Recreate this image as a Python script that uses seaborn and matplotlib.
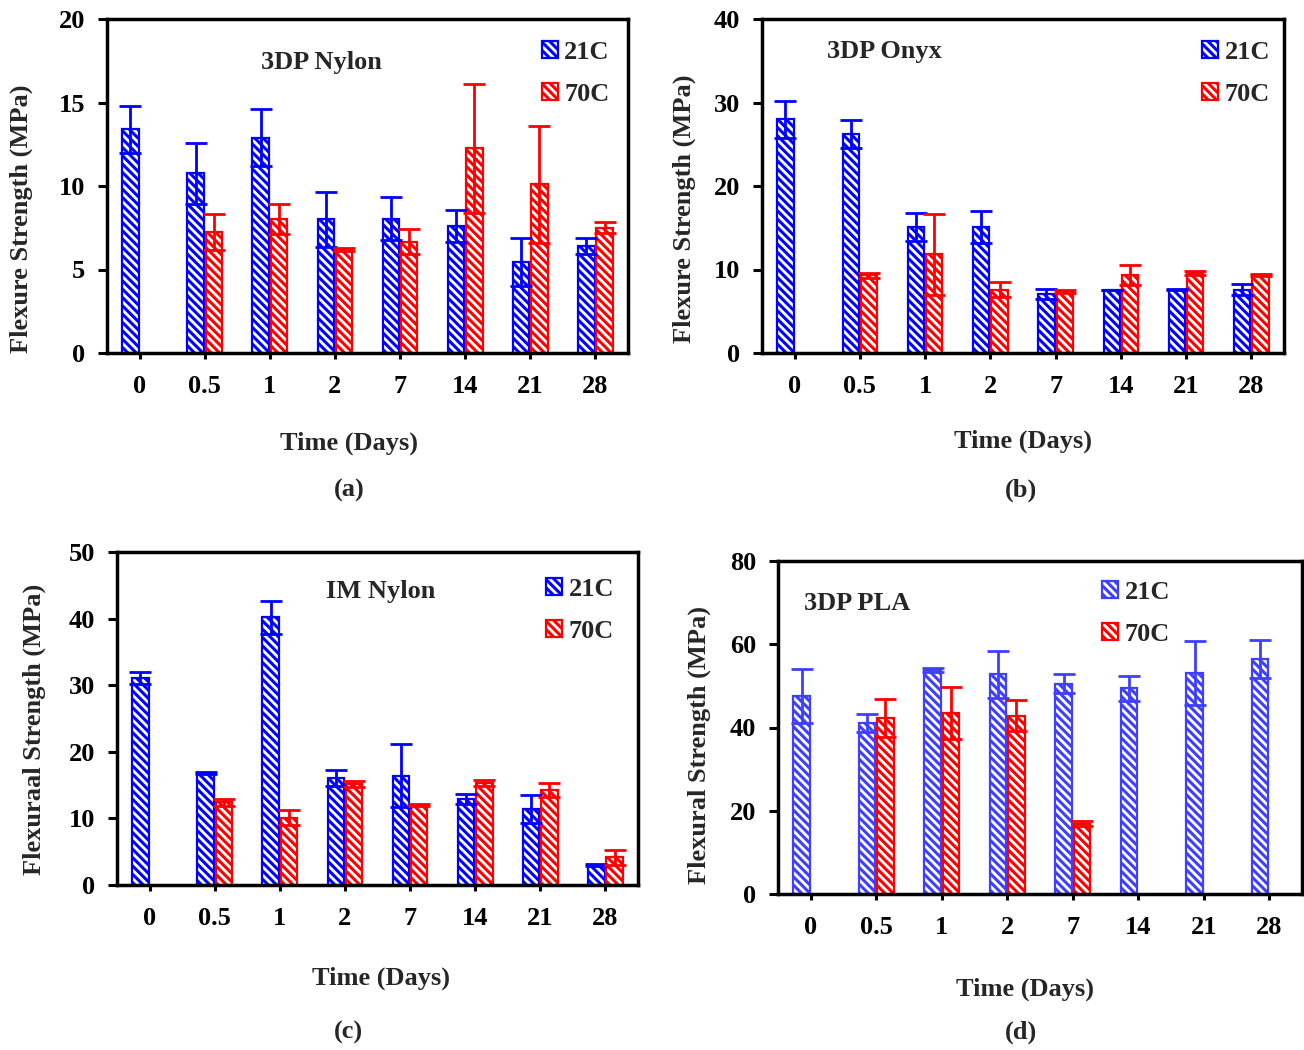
import numpy as np
import pandas as pd
import matplotlib
matplotlib.use("Agg")
import matplotlib.pyplot as plt
import matplotlib.patches as mpatches
import seaborn as sns

nan = np.nan

times = ["0", "0.5", "1", "2", "7", "14", "21", "28"]
temps = ["21C", "70C"]

# 3DP Nylon
nylon_21 = [13.4, 10.75, 12.9, 8.0, 8.05, 7.6, 5.45, 6.4]
nylon_21_err = [1.4, 1.8, 1.7, 1.65, 1.3, 0.95, 1.45, 0.5]
nylon_70 = [nan, 7.25, 8.0, 6.2, 6.65, 12.25, 10.1, 7.5]
nylon_70_err = [nan, 1.1, 0.9, 0.08, 0.75, 3.85, 3.5, 0.32]

# 3DP Onyx
onyx_21 = [28.0, 26.2, 15.1, 15.1, 7.1, 7.55, 7.6, 7.6]
onyx_21_err = [2.2, 1.7, 1.7, 1.95, 0.6, 0.05, 0.1, 0.7]
onyx_70 = [nan, 9.3, 11.8, 7.6, 7.4, 9.3, 9.55, 9.4]
onyx_70_err = [nan, 0.3, 4.8, 0.9, 0.2, 1.2, 0.25, 0.12]

# IM Nylon
im_21 = [31.1, 16.8, 40.2, 16.0, 16.4, 12.9, 11.4, 3.0]
im_21_err = [0.9, 0.1, 2.5, 1.2, 4.7, 0.7, 2.1, 0.1]
im_70 = [nan, 12.4, 10.1, 15.1, 12.0, 15.3, 14.3, 4.15]
im_70_err = [nan, 0.55, 1.15, 0.45, 0.1, 0.4, 1.05, 1.1]

# 3DP PLA
pla_21 = [47.6, 41.1, 53.8, 52.8, 50.5, 49.4, 53.0, 56.4]
pla_21_err = [6.5, 2.15, 0.55, 5.6, 2.25, 3.0, 7.7, 4.55]
pla_70 = [nan, 42.2, 43.5, 42.8, 16.9, nan, nan, nan]
pla_70_err = [nan, 4.6, 6.3, 3.75, 0.65, nan, nan, nan]

BLUE = "#0000FF"
RED = "#FF0000"
LIGHT_BLUE = "#3F3FFF"
HATCH = "\\\\\\\\"

sns.set_theme(style="ticks")
plt.rcParams["font.family"] = ["Liberation Serif", "DejaVu Serif"]
plt.rcParams["font.weight"] = "bold"
plt.rcParams["axes.labelweight"] = "bold"
plt.rcParams["hatch.linewidth"] = 2.2
FS = 19


def make_frame(v21, e21, v70, e70):
    rows = []
    for t, a, ea, b, eb in zip(times, v21, e21, v70, e70):
        rows.append({"time": t, "temp": "21C", "value": a, "err": ea})
        rows.append({"time": t, "temp": "70C", "value": b, "err": eb})
    return pd.DataFrame(rows).dropna()


def draw_panel(ax, df, colors, ymax, ystep, title, title_xy, ylabel,
               ylabel_xy, xlabel_xy, leg_anchor):
    sns.barplot(data=df, x="time", y="value", hue="temp", order=times,
                hue_order=temps, palette=colors, width=0.56, gap=0.1,
                errorbar=None, legend=False, ax=ax)
    lookup = {(r.time, r.temp): (r.value, r.err) for r in df.itertuples()}
    for lvl, cont in zip(temps, ax.containers):
        col = colors[lvl]
        for p in cont:
            p.set_facecolor("white")
            p.set_edgecolor(col)
            p.set_linewidth(1.6)
            p.set_hatch(HATCH)
            if hasattr(p, "set_hatchcolor"):
                p.set_hatchcolor(col)
            xc = p.get_x() + p.get_width() / 2
            key = (times[int(round(xc))], lvl)
            if key in lookup:
                val, err = lookup[key]
                ax.errorbar(xc, val, yerr=err, fmt="none", ecolor=col,
                            elinewidth=2.0, capsize=8, capthick=2.0, zorder=5)

    ax.set_xlim(-0.5, 7.5)
    ax.set_ylim(0, ymax)
    ax.set_yticks(np.arange(0, ymax + 0.1, ystep))
    ax.set_yticklabels([f"{int(v)}" for v in np.arange(0, ymax + 0.1, ystep)])
    ax.set_xticks(range(len(times)))
    ax.set_xticklabels(times)
    for sp in ax.spines.values():
        sp.set_visible(True)
        sp.set_linewidth(2.5)
        sp.set_color("black")
    ax.tick_params(axis="x", direction="out", length=4, width=2.2, pad=12,
                   labelsize=FS, colors="black")
    ax.tick_params(axis="y", direction="out", length=6.5, width=2.2, pad=9,
                   labelsize=FS, colors="black")
    for lab in ax.get_xticklabels() + ax.get_yticklabels():
        lab.set_fontweight("bold")

    ax.set_xlabel("Time (Days)", fontsize=FS, fontweight="bold")
    ax.xaxis.set_label_coords(*xlabel_xy)
    ax.set_ylabel(ylabel, fontsize=FS, fontweight="bold")
    ax.yaxis.set_label_coords(*ylabel_xy)
    ax.text(title_xy[0], title_xy[1], title, transform=ax.transAxes,
            ha="center", va="center", fontsize=FS, fontweight="bold")

    handles = [mpatches.Patch(facecolor="white", edgecolor=colors[t],
                              hatch=HATCH, linewidth=1.6, label=t)
               for t in temps]
    for h, t in zip(handles, temps):
        if hasattr(h, "set_hatchcolor"):
            h.set_hatchcolor(colors[t])
    leg = ax.legend(handles=handles, loc="upper right",
                    bbox_to_anchor=leg_anchor, frameon=False,
                    fontsize=FS, handlelength=0.6, handleheight=0.6,
                    handletextpad=0.25, labelspacing=0.72, borderpad=0,
                    borderaxespad=0)
    for txt in leg.get_texts():
        txt.set_fontweight("bold")


fig = plt.figure(figsize=(13.04, 10.5), dpi=100)
W, H = 1304, 1050


def axes_px(left, top, right, bottom):
    return fig.add_axes([left / W, 1 - bottom / H, (right - left) / W,
                         (bottom - top) / H])


ax_a = axes_px(107, 19, 628, 353)
ax_b = axes_px(762, 19, 1284, 353)
ax_c = axes_px(117, 552, 638, 885)
ax_d = axes_px(778, 561, 1302, 894)

draw_panel(ax_a, make_frame(nylon_21, nylon_21_err, nylon_70, nylon_70_err),
           {"21C": BLUE, "70C": RED}, 20, 5, "3DP Nylon", (0.411, 0.871),
           "Flexure Strength (MPa)", (-0.142, 0.401), (0.4645, -0.2365),
           (0.965, 0.934))
draw_panel(ax_b, make_frame(onyx_21, onyx_21_err, onyx_70, onyx_70_err),
           {"21C": BLUE, "70C": RED}, 40, 10, "3DP Onyx", (0.234, 0.904),
           "Flexure Strength (MPa)", (-0.126, 0.431), (0.5, -0.2305),
           (0.973, 0.934))
draw_panel(ax_c, make_frame(im_21, im_21_err, im_70, im_70_err),
           {"21C": BLUE, "70C": RED}, 50, 10, "IM Nylon", (0.507, 0.88),
           "Flexuraal Strength (MPa)", (-0.136, 0.468), (0.507, -0.246),
           (0.954, 0.922))
draw_panel(ax_d, make_frame(pla_21, pla_21_err, pla_70, pla_70_err),
           {"21C": LIGHT_BLUE, "70C": RED}, 80, 20, "3DP PLA", (0.151, 0.871),
           "Flexural Strength (MPa)", (-0.128, 0.447), (0.471, -0.252),
           (0.748, 0.94))

for lbl, x, y in [("(a)", 349, 490), ("(b)", 1021, 490),
                  ("(c)", 348, 1032), ("(d)", 1021, 1032)]:
    fig.text(x / W, 1 - y / H, lbl, ha="center", va="center",
             fontsize=FS, fontweight="bold")

fig.savefig("out.png", dpi=100, facecolor="white")
